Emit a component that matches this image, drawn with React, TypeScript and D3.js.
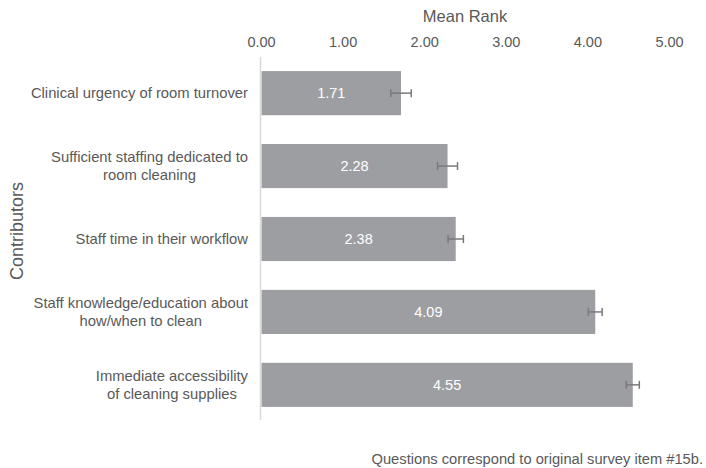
import React from "react";
import * as d3 from "d3";

const categories: string[][] = [
  ["Clinical urgency of room turnover"],
  ["Sufficient staffing dedicated to", "room cleaning"],
  ["Staff time in their workflow"],
  ["Staff knowledge/education about", "how/when to clean"],
  ["Immediate accessibility", "of cleaning supplies"],
];
const meanRank: number[] = [1.71, 2.28, 2.38, 4.09, 4.55];
const errors: number[] = [0.125, 0.122, 0.094, 0.085, 0.08];
const ticks: number[] = [0, 1, 2, 3, 4, 5];

const W = 706;
const H = 468;
const FONT = "'Liberation Sans', Arial, sans-serif";
const TEXT = "#595959";

function measure(t: string, size: number): number {
  if (typeof document === "undefined") return t.length * size * 0.5;
  const c = document.createElement("canvas").getContext("2d");
  if (!c) return t.length * size * 0.5;
  c.font = `${size}px 'Liberation Sans', Arial, sans-serif`;
  return c.measureText(t).width;
}

export default function App() {
  const x = d3.scaleLinear().domain([0, 5]).range([261.5, 669.5]);
  const y = d3
    .scaleBand<number>()
    .domain(d3.range(categories.length))
    .range([56.5, 421.5])
    .paddingInner(0.395)
    .paddingOuter(0.2);
  const labelSize = 14.8;
  const labelRight = 248;

  return (
    <svg
      width={W}
      height={H}
      style={{ position: "absolute", left: 0, top: 0, background: "#fff" }}
      fontFamily={FONT}
    >
      <text x={465} y={22} textAnchor="middle" fontSize={16.5} fill={TEXT}>
        Mean Rank
      </text>
      {ticks.map((t) => (
        <text key={t} x={x(t)} y={47} textAnchor="middle" fontSize={14.5} fill={TEXT}>
          {t.toFixed(2)}
        </text>
      ))}
      {meanRank.map((v, i) => {
        const y0 = y(i)!;
        const bh = y.bandwidth();
        const cy = y0 + bh / 2;
        return (
          <g key={i}>
            <rect x={x(0)} y={y0} width={x(v) - x(0)} height={bh} fill="#9d9ea2" />
            <text
              x={(x(0) + x(v)) / 2}
              y={cy + 5}
              textAnchor="middle"
              fontSize={14.5}
              fill="#ffffff"
            >
              {v.toFixed(2)}
            </text>
            <g stroke="#7a7a7e" strokeWidth={1.5}>
              <line x1={x(v - errors[i])} x2={x(v + errors[i])} y1={cy} y2={cy} />
              <line x1={x(v - errors[i])} x2={x(v - errors[i])} y1={cy - 4} y2={cy + 4} />
              <line x1={x(v + errors[i])} x2={x(v + errors[i])} y1={cy - 4} y2={cy + 4} />
            </g>
          </g>
        );
      })}
      <line x1={x(0) - 1} x2={x(0) - 1} y1={57} y2={420} stroke="#d9d9d9" strokeWidth={1.5} />
      {categories.map((lines, i) => {
        const cy = y(i)! + y.bandwidth() / 2;
        const maxW = Math.max(...lines.map((l) => measure(l, labelSize)));
        const cx = labelRight - maxW / 2;
        const lh = 18;
        const startY = cy - ((lines.length - 1) * lh) / 2 + 5;
        return (
          <text key={i} textAnchor="middle" fontSize={labelSize} fill={TEXT}>
            {lines.map((l, j) => (
              <tspan key={j} x={cx} y={startY + j * lh}>
                {l}
              </tspan>
            ))}
          </text>
        );
      })}
      <text
        transform="translate(23,231) rotate(-90)"
        textAnchor="middle"
        fontSize={18}
        fill={TEXT}
      >
        Contributors
      </text>
      <text x={703} y={464} textAnchor="end" fontSize={14.7} fill={TEXT}>
        Questions correspond to original survey item #15b.
      </text>
    </svg>
  );
}
